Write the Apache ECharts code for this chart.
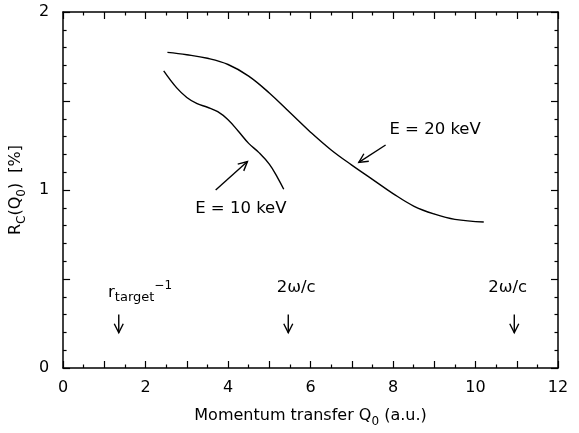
<!DOCTYPE html>
<html><head><meta charset="utf-8">
<script src="https://cdn.jsdelivr.net/npm/echarts@6.0.0/dist/echarts.min.js"></script>
<style>html,body{margin:0;padding:0;background:#fff}#c{width:579px;height:433px}</style>
</head><body><div id="c"></div>
<script>
// E = 10 keV curve
const q10 = [2.44, 2.75, 3.0, 3.25, 3.5, 3.75, 4.0, 4.25, 4.5, 4.75, 5.0, 5.2, 5.35];
const r10 = [1.669, 1.575, 1.52, 1.485, 1.465, 1.44, 1.395, 1.33, 1.262, 1.21, 1.145, 1.07, 1.004];
// E = 20 keV curve
const q20 = [2.53, 3.0, 3.5, 4.0, 4.5, 5.0, 5.5, 6.0, 6.5, 7.0, 7.5, 8.0, 8.5, 9.0, 9.5, 10.2];
const r20 = [1.773, 1.76, 1.74, 1.705, 1.64, 1.545, 1.435, 1.325, 1.225, 1.14, 1.06, 0.98, 0.91, 0.865, 0.835, 0.82];
// tick labels
const xLabels = [0, 2, 4, 6, 8, 10, 12];
const yLabels = [0, 1, 2];
// annotation arrows [x1, y1, x2, y2] (data units)
const arrows = [
  [7.82, 1.253, 7.17, 1.155],
  [3.70, 1.00, 4.47, 1.16],
  [1.35, 0.30, 1.35, 0.198],
  [5.46, 0.30, 5.46, 0.198],
  [10.94, 0.30, 10.94, 0.198]
];
// annotation texts [x, y, text, align]
const notes = [
  [9.02, 1.34, 'E = 20 keV', 'center'],
  [4.31, 0.896, 'E = 10 keV', 'center'],
  [1.09, 0.425, '{b|r}{sub|target}{sup|\u22121}', 'left'],
  [5.65, 0.452, '2\u03c9/c', 'center'],
  [10.78, 0.452, '2\u03c9/c', 'center']
];

const FONT = 'DejaVu Sans';
const chart = echarts.init(document.getElementById('c'), null, {renderer: 'canvas'});
const axisCommon = {
  axisLine: {onZero: false, lineStyle: {color: '#000', width: 1.5}},
  splitLine: {show: false},
  axisTick: {inside: true, length: 7, lineStyle: {color: '#000', width: 1.2}},
  minorTick: {show: true, length: 3.5, lineStyle: {color: '#000', width: 1.2}}
};
const rich = {
  b: {fontFamily: FONT, fontSize: 16.5, color: '#000', lineHeight: 24},
  sub: {fontFamily: FONT, fontSize: 13, color: '#000', verticalAlign: 'bottom', lineHeight: 24},
  sup: {fontFamily: FONT, fontSize: 12, color: '#000', verticalAlign: 'top', lineHeight: 24}
};

chart.setOption({
  animation: false,
  backgroundColor: '#fff',
  grid: {left: 62, right: 21, top: 12, bottom: 57},
  xAxis: [
    Object.assign({}, axisCommon, {
      type: 'value', min: 0, max: 12, interval: 1, position: 'bottom',
      minorTick: Object.assign({}, axisCommon.minorTick, {splitNumber: 2}),
      axisLabel: {color: '#000', fontFamily: FONT, fontSize: 16, margin: 12,
        formatter: v => xLabels.includes(v) ? String(v) : ''},
      name: 'Momentum transfer Q{sub|0} (a.u.)', nameLocation: 'middle', nameGap: 36,
      nameTextStyle: {color: '#000', fontFamily: FONT, fontSize: 16,
        rich: {sub: {fontFamily: FONT, fontSize: 12, color: '#000', verticalAlign: 'bottom', lineHeight: 24}}}
    }),
    Object.assign({}, axisCommon, {
      type: 'value', min: 0, max: 12, interval: 1, position: 'top',
      minorTick: Object.assign({}, axisCommon.minorTick, {splitNumber: 2}),
      axisLabel: {show: false}
    })
  ],
  yAxis: [
    Object.assign({}, axisCommon, {
      type: 'value', min: 0, max: 2, interval: 0.5, position: 'left',
      minorTick: Object.assign({}, axisCommon.minorTick, {splitNumber: 5}),
      axisLabel: {color: '#000', fontFamily: FONT, fontSize: 16, margin: 14,
        formatter: v => yLabels.includes(v) ? String(v) : ''},
      name: 'R{sub|C}(Q{sub|0})  [%]', nameLocation: 'middle', nameGap: 27, nameRotate: 90,
      nameTextStyle: {color: '#000', fontFamily: FONT, fontSize: 16,
        rich: {sub: {fontFamily: FONT, fontSize: 12, color: '#000', verticalAlign: 'bottom', lineHeight: 24}}}
    }),
    Object.assign({}, axisCommon, {
      type: 'value', min: 0, max: 2, interval: 0.5, position: 'right',
      minorTick: Object.assign({}, axisCommon.minorTick, {splitNumber: 5}),
      axisLabel: {show: false}
    })
  ],
  series: [
    {type: 'line', data: q10.map((q, i) => [q, r10[i]]), smooth: 0.4, showSymbol: false,
      lineStyle: {color: '#000', width: 1.4}},
    {type: 'line', data: q20.map((q, i) => [q, r20[i]]), smooth: 0.4, showSymbol: false,
      lineStyle: {color: '#000', width: 1.4}},
    {type: 'custom', data: arrows, encode: {x: [0, 2], y: [1, 3]},
      renderItem: function (params, api) {
        const p1 = api.coord([api.value(0), api.value(1)]);
        const p2 = api.coord([api.value(2), api.value(3)]);
        const dx = p2[0] - p1[0], dy = p2[1] - p1[1];
        const L = Math.hypot(dx, dy), ux = dx / L, uy = dy / L;
        const hl = 9, hw = 4.5;
        const bx = p2[0] - ux * hl, by = p2[1] - uy * hl;
        const a = [bx - uy * hw, by + ux * hw], b = [bx + uy * hw, by - ux * hw];
        const st = {stroke: '#000', lineWidth: 1.4, fill: null};
        return {type: 'group', children: [
          {type: 'polyline', shape: {points: [p1, p2]}, style: st},
          {type: 'polyline', shape: {points: [a, p2, b]}, style: st}
        ]};
      }},
    {type: 'custom', data: notes.map(n => [n[0], n[1]]), encode: {x: 0, y: 1},
      renderItem: function (params, api) {
        const n = notes[params.dataIndex];
        const p = api.coord([api.value(0), api.value(1)]);
        return {type: 'text', x: p[0], y: p[1], style: {
          text: n[2].indexOf('{') >= 0 ? n[2] : '{b|' + n[2] + '}',
          rich: rich, align: n[3], verticalAlign: 'middle', fill: '#000'}};
      }}
  ]
});
</script></body></html>
